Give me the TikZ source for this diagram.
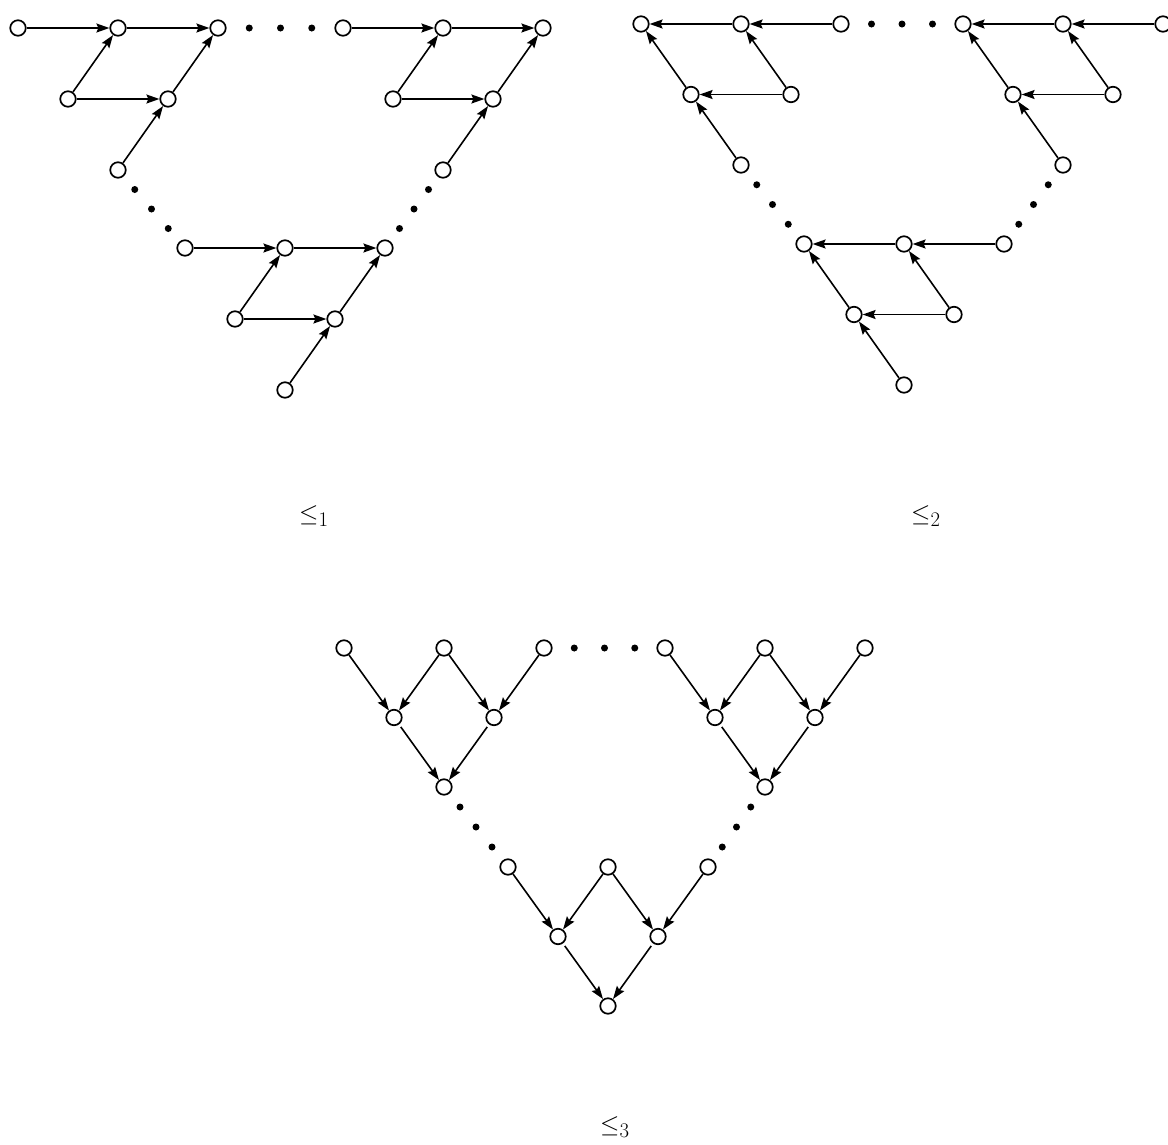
\documentclass[tikz,border=0pt]{standalone}
\usepackage{amsmath, amssymb}
\usepackage{tikz}
\usetikzlibrary{arrows.meta,calc}
\tikzset{
  vertex/.style={draw, circle, line width=1.7pt, fill=white, minimum size=15.5pt, inner sep=0pt},
  arc/.style={-{Stealth[length=13pt,width=9pt,inset=2pt]}, line width=1.6pt},
  arcgap/.style={arc, shorten <=3pt},
  order/.style={font=\fontsize{28}{32}\selectfont, inner sep=0pt, anchor=west}
}

\begin{document}
\begin{tikzpicture}[x=1pt, y=-1pt]
  \useasboundingbox (0,0) rectangle (1168,1144);
  \foreach \g/\blk/\x/\y/\dy in {1/A/18/28/71, 1/B/343/28/71, 1/C/185/248/71,
      2/A/641/24/70.5, 2/B/963/24/70.5, 2/C/804/244/70.5,
      3/A/344/648/69.5, 3/B/665/648/69.5, 3/C/508/867/69.5} {
    \foreach \i in {0,1,2}
      \node[vertex] (g\g-\blk-t\i) at ({\x+100*\i},\y) {};
    \foreach \i in {0,1}
      \node[vertex] (g\g-\blk-m\i) at ({\x+50+100*\i},{\y+\dy}) {};
    \node[vertex] (g\g-\blk-b) at ({\x+100},{\y+2*\dy}) {};
  }
  \foreach \blk in {A,B,C} {
    \draw[arc] (g1-\blk-t0) -- (g1-\blk-t1);
    \draw[arc] (g1-\blk-t1) -- (g1-\blk-t2);
    \draw[arc] (g1-\blk-m0) -- (g1-\blk-m1);
    \draw[arc] (g1-\blk-m0) -- (g1-\blk-t1);
    \draw[arc] (g1-\blk-m1) -- (g1-\blk-t2);
    \draw[arc] (g1-\blk-b) -- (g1-\blk-m1);
    \draw[arc] (g2-\blk-t1) -- (g2-\blk-t0);
    \draw[arc] (g2-\blk-t2) -- (g2-\blk-t1);
    \draw[arc] (g2-\blk-m1) -- (g2-\blk-m0);
    \draw[arc] (g2-\blk-m0) -- (g2-\blk-t0);
    \draw[arc] (g2-\blk-m1) -- (g2-\blk-t1);
    \draw[arc] (g2-\blk-b) -- (g2-\blk-m0);
    \draw[arc] (g3-\blk-t0) -- (g3-\blk-m0);
    \draw[arc] (g3-\blk-t1) -- (g3-\blk-m0);
    \draw[arc] (g3-\blk-t1) -- (g3-\blk-m1);
    \draw[arc] (g3-\blk-t2) -- (g3-\blk-m1);
    \draw[arcgap] (g3-\blk-m0) -- (g3-\blk-b);
    \draw[arcgap] (g3-\blk-m1) -- (g3-\blk-b);
  }
  \foreach \g in {1,2,3}
    \foreach \t in {0.25,0.5,0.75} {
      \fill ($(g\g-A-t2)!\t!(g\g-B-t0)$) circle (3.5pt);
      \fill ($(g\g-A-b)!\t!(g\g-C-t0)$) circle (3.5pt);
      \fill ($(g\g-B-b)!\t!(g\g-C-t2)$) circle (3.5pt);
    }
  \node[order] (le1) at (299,516) {$\leq_1$};
  \node[order] (le2) at (911,516) {$\leq_2$};
  \node[order] (le3) at (600,1127) {$\leq_3$};
\end{tikzpicture}
\end{document}
